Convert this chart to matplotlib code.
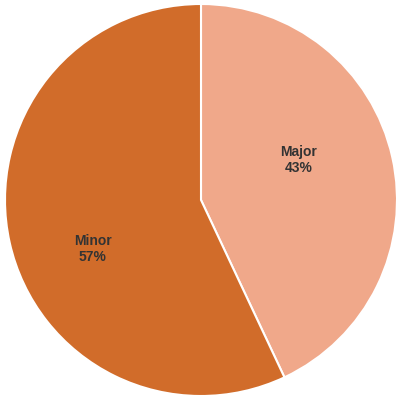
import matplotlib
matplotlib.use("Agg")
import matplotlib.pyplot as plt
import numpy as np

labels = ["Major", "Minor"]
shares = [43, 57]
colors = ["#F0A88A", "#D16C2A"]

fig = plt.figure(figsize=(4.02, 4.0), dpi=100)
ax = fig.add_axes([0, 0, 1, 1])

wedges, _ = ax.pie(shares, colors=colors, startangle=90, counterclock=False,
                   radius=196 / 200,
                   wedgeprops=dict(edgecolor="white", linewidth=1.5))

# label positions (pie units)
label_pos = [(0.49, 0.20), (-0.54, -0.245)]
for lab, val, (x, y) in zip(labels, shares, label_pos):
    ax.text(x, y, f"{lab}\n{val}%", ha="center", va="center",
            fontsize=10, fontweight="bold", color="#333333",
            family="Liberation Sans", linespacing=1.1)

ax.set_xlim(-1.005, 1.005)
ax.set_ylim(-1.0, 1.0)
ax.set_aspect("equal")
ax.axis("off")

fig.savefig("out.png", dpi=100)
